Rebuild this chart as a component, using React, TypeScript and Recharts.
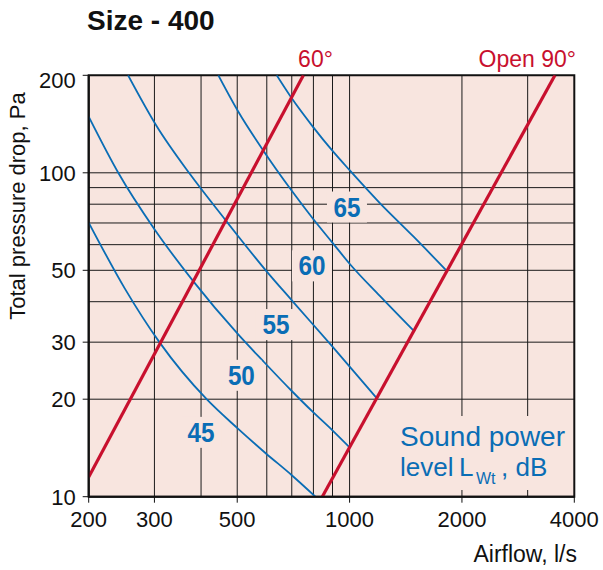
import React from 'react';
import { ComposedChart, Line, XAxis, YAxis, CartesianGrid, ReferenceArea, Scatter } from 'recharts';

const FONT = '"Liberation Sans", Arial, Helvetica, sans-serif';
const BLUE = '#0a6db5';
const RED = '#c8102e';
const BG = '#f8e5df';
const GRID = '#1a1a1a';

// axis ticks and grid values
const xTicks = [200, 300, 500, 1000, 2000, 4000];
const yTicks = [10, 20, 30, 50, 100, 200];
const xGrid = [300, 400, 500, 600, 700, 800, 900, 1000, 2000, 3000];
const yGrid = [20, 30, 40, 50, 60, 70, 80, 90, 100];

// sound power level curves (airflow l/s, pressure Pa)
const curve45 = [
  { x: 200, y: 70.2 }, { x: 250, y: 43.9 }, { x: 310, y: 29.9 }, { x: 414, y: 20 },
  { x: 503, y: 16.2 }, { x: 597, y: 13.6 }, { x: 700, y: 11.65 }, { x: 810, y: 10 },
];
const curve50 = [
  { x: 200, y: 149 }, { x: 240, y: 100 }, { x: 301, y: 66.6 }, { x: 381, y: 46.3 }, { x: 503, y: 31.7 },
  { x: 587, y: 26.2 }, { x: 700, y: 21.2 }, { x: 796, y: 18.3 }, { x: 901, y: 16.0 }, { x: 1000, y: 14.2 },
];
const curve55 = [
  { x: 255, y: 200 }, { x: 304, y: 139.5 }, { x: 373.5, y: 99.1 }, { x: 464, y: 71.7 }, { x: 503, y: 63.7 },
  { x: 597, y: 49.9 }, { x: 700, y: 40.4 }, { x: 901, y: 29 }, { x: 1182, y: 20.15 },
];
const curve60 = [
  { x: 445, y: 200 }, { x: 503, y: 154.6 }, { x: 587, y: 117.2 }, { x: 700, y: 88 }, { x: 799, y: 72 },
  { x: 898, y: 61 }, { x: 1000, y: 52.4 }, { x: 1207, y: 41.6 }, { x: 1482, y: 32.6 },
];
const curve65 = [
  { x: 638, y: 200 }, { x: 700, y: 169.8 }, { x: 795, y: 139.4 }, { x: 905, y: 116 }, { x: 1000, y: 101.9 },
  { x: 1207, y: 80.5 }, { x: 1482, y: 63.6 }, { x: 1821, y: 49.8 },
];

// damper position lines
const damper60 = [{ x: 200, y: 11.5 }, { x: 752, y: 200 }];
const damper90 = [{ x: 845, y: 10 }, { x: 3550, y: 200 }];

// curve labels
const levelLabels = [
  { x: 400, y: 15.8, t: '45' },
  { x: 513, y: 23.7, t: '50' },
  { x: 635, y: 34, t: '55' },
  { x: 793, y: 51.6, t: '60' },
  { x: 984, y: 78.4, t: '65' },
];

const blueCurves = [curve45, curve50, curve55, curve60, curve65];

const XTick = (props: any) => {
  const { x, y, payload } = props;
  return (
    <text x={x} y={y} dy="0.71em" textAnchor="middle" fontSize={22} fontFamily={FONT} fill="#111">
      {payload.value}
    </text>
  );
};

const YTick = (props: any) => {
  const { x, y, payload } = props;
  const shift = payload.value === 200 ? 5 : 0;
  return (
    <text x={x} y={y + shift} dy="0.355em" textAnchor="end" fontSize={22} fontFamily={FONT} fill="#111">
      {payload.value}
    </text>
  );
};

const LevelLabel = (props: any) => {
  const { cx, cy, payload } = props;
  if (cx == null || cy == null) return null;
  return (
    <g>
      <rect x={cx - 20} y={cy - 15.5} width={40} height={31} fill={BG} />
      <text
        x={cx}
        y={cy + 9.5}
        textAnchor="middle"
        fontSize={27}
        fontWeight="bold"
        fontFamily={FONT}
        fill={BLUE}
        textLength={27}
        lengthAdjust="spacingAndGlyphs"
      >
        {payload.t}
      </text>
    </g>
  );
};

export default function App() {
  return (
    <div style={{ position: 'absolute', left: 0, top: 0, width: 603, height: 570, background: '#fff' }}>
      <ComposedChart
        width={603}
        height={570}
        margin={{ top: 75.3, right: 28.7, bottom: 33.3, left: 28.7 }}
      >
        <CartesianGrid
          fill={BG}
          fillOpacity={1}
          stroke={GRID}
          strokeWidth={1}
          horizontalValues={yGrid}
          verticalValues={xGrid}
        />
        <XAxis
          dataKey="x"
          type="number"
          scale="log"
          domain={[200, 4000]}
          ticks={xTicks}
          allowDataOverflow
          height={40}
          tickSize={6}
          tickMargin={9}
          tick={<XTick />}
          axisLine={{ stroke: '#111', strokeWidth: 2 }}
          tickLine={{ stroke: '#111', strokeWidth: 1 }}
          interval={0}
        />
        <YAxis
          dataKey="y"
          type="number"
          scale="log"
          domain={[10, 200]}
          ticks={yTicks}
          allowDataOverflow
          width={60}
          tickSize={6}
          tickMargin={7}
          tick={<YTick />}
          axisLine={{ stroke: '#111', strokeWidth: 2 }}
          tickLine={{ stroke: '#111', strokeWidth: 1 }}
          interval={0}
        />
        {blueCurves.map((c, i) => (
          <Line
            key={'b' + i}
            data={c}
            dataKey="y"
            type="monotone"
            stroke={BLUE}
            strokeWidth={1.8}
            dot={false}
            activeDot={false}
            isAnimationActive={false}
          />
        ))}
        <Line data={damper60} dataKey="y" type="linear" stroke={RED} strokeWidth={3.2} dot={false} activeDot={false} isAnimationActive={false} />
        <Line data={damper90} dataKey="y" type="linear" stroke={RED} strokeWidth={3.2} dot={false} activeDot={false} isAnimationActive={false} />
        <Scatter data={levelLabels} dataKey="y" shape={<LevelLabel />} isAnimationActive={false} />
        <ReferenceArea x1={200} x2={4000} y1={10} y2={200} fill="none" stroke="#111" strokeWidth={2} ifOverflow="visible" />
      </ComposedChart>
      <svg
        width={603}
        height={570}
        style={{ position: 'absolute', left: 0, top: 0, pointerEvents: 'none' }}
        fontFamily={FONT}
      >
        <text x={87} y={30} fontSize={28} fontWeight="bold" fill="#111">Size - 400</text>
        <text x={315.5} y={66.5} fontSize={23} textAnchor="middle" fill={RED}>60°</text>
        <text x={576} y={66.5} fontSize={23} textAnchor="end" fill={RED}>Open 90°</text>
        <text x={24.5} y={206} fontSize={22} textAnchor="middle" fill="#111" transform="rotate(-90, 24.5, 206)">
          Total pressure drop, Pa
        </text>
        <text x={577} y={562} fontSize={23} textAnchor="end" fill="#111">Airflow, l/s</text>
        <rect x={395} y={416} width={177} height={74} fill={BG} />
        <text x={400} y={446} fontSize={28} fill={BLUE}>Sound power</text>
        <text x={400} y={476} fontSize={26} fill={BLUE}>
          level<tspan x={459}>L</tspan>
          <tspan x={476} dy={8} fontSize={16}>Wt</tspan>
          <tspan x={501} dy={-8}>, dB</tspan>
        </text>
      </svg>
    </div>
  );
}
